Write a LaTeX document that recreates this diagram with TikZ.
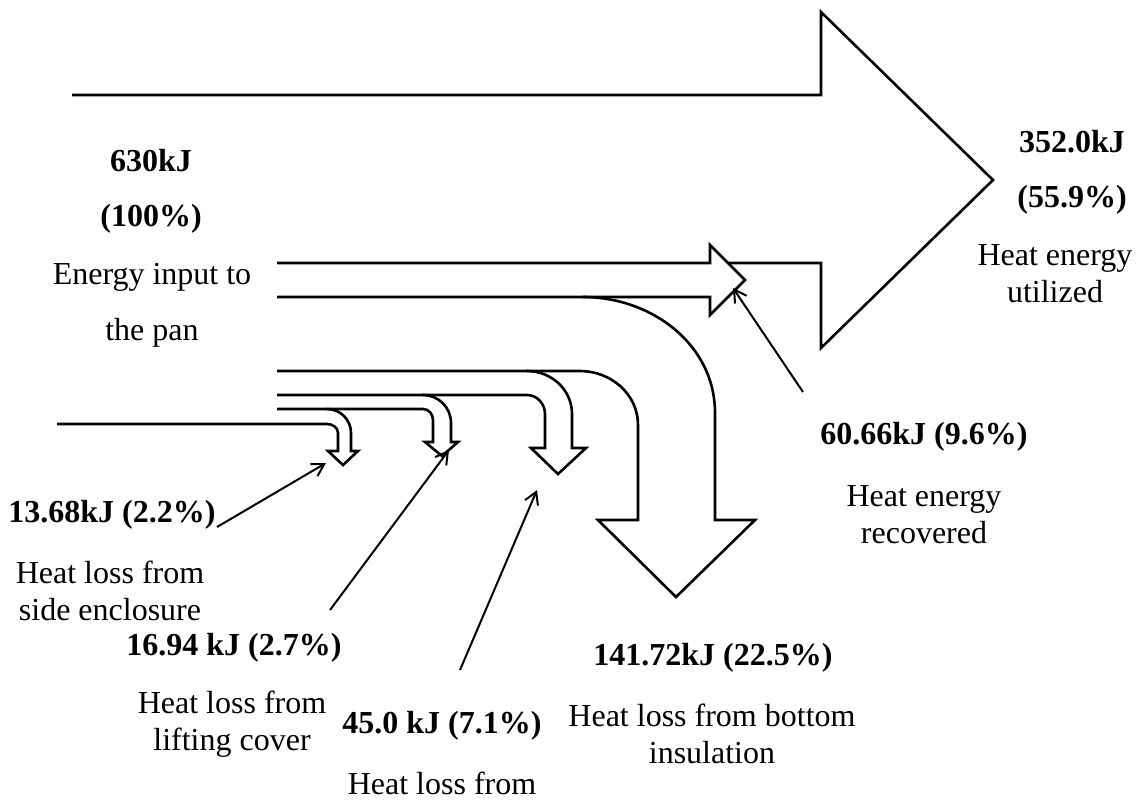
\documentclass[tikz,border=0pt]{standalone}
\usepackage{fontspec}
\setmainfont{Liberation Serif}
\usetikzlibrary{arrows.meta}

\begin{document}
\begin{tikzpicture}[x=0.5pt,y=0.5pt,
        flow/.style={draw=black,line width=1.3pt,line join=miter},
        pointer/.style={line width=1pt,-{Straight Barb[length=6pt,width=7pt]}},
        val/.style={font=\fontsize{16}{19}\selectfont\bfseries},
        txt/.style={font=\fontsize{16}{18.5}\selectfont,align=center}]
        \useasboundingbox (0,0) rectangle (1136,-799);

        % main flow and the recovered part
        \draw[flow] (72,-95) -- (821,-95) -- (821,-12) -- (993,-180) -- (821,-348) -- (821,-263) -- (728,-263);
        \draw[flow] (277,-263) -- (710,-263) -- (710,-245) -- (745,-280) -- (710,-315) -- (710,-297) -- (277,-297);

        % losses
        \draw[flow] (583,-297) to[out=0,in=90] (715,-413) -- (715,-520) -- (755,-520) -- (676,-597) -- (598,-520) -- (638,-520) -- (638,-425) to[out=90,in=0] (580,-371) -- (277,-371);
        \draw[flow] (527,-371) to[out=0,in=90] (572,-414) -- (572,-448) -- (586,-448) -- (558,-474) -- (531,-448) -- (545,-448) -- (545,-414) to[out=90,in=0] (527,-395) -- (423,-395);
        \draw[flow] (277,-395) -- (423,-395) to[out=0,in=90] (451,-423) -- (451,-442) -- (458,-442) -- (442,-456) -- (425,-442) -- (433,-442) -- (433,-420) to[out=90,in=0] (423,-409) -- (277,-409);
        \draw[flow] (327,-409) to[out=0,in=90] (351,-433) -- (351,-451) -- (358,-451) -- (343,-465) -- (328,-451) -- (338,-451) -- (338,-433) to[out=90,in=0] (327,-424) -- (57,-424);

        % labels
        \node[val] (inval) at (151,-161) {630kJ};
        \node[val] (inpct) at (151,-219) {(100\%)};
        \node[txt,font=\fontsize{16}{28}\selectfont] (intxt) at (152,-305) {Energy input to\\the pan};
        \node[val] (useval) at (1072,-142) {352.0kJ};
        \node[val] (usepct) at (1072,-200) {(55.9\%)};
        \node[txt] (usetxt) at (1055,-274) {Heat energy\\utilized};
        \node[val] (recval) at (924,-437) {60.66kJ (9.6\%)};
        \node[txt] (rectxt) at (924,-515) {Heat energy\\recovered};
        \node[val] (sideval) at (112,-515) {13.68kJ (2.2\%)};
        \node[txt] (sidetxt) at (110,-591) {Heat loss from\\side enclosure};
        \node[val] (liftval) at (234,-648) {16.94 kJ (2.7\%)};
        \node[txt] (lifttxt) at (232,-724) {Heat loss from\\lifting cover};
        \node[val] (panval) at (442,-726) {45.0 kJ (7.1\%)};
        \node[txt] (pantxt) at (442,-783) {Heat loss from};
        \node[val] (botval) at (713,-658) {141.72kJ (22.5\%)};
        \node[txt] (bottxt) at (712,-734) {Heat loss from bottom\\insulation};

        % pointers
        \coordinate (recs) at (803,-392); \coordinate (rece) at (733,-288);
        \coordinate (sides) at (217,-527); \coordinate (sidee) at (326,-463);
        \coordinate (lifts) at (330,-610); \coordinate (lifte) at (449,-450);
        \coordinate (pans) at (460,-670); \coordinate (pane) at (537,-490);
        \draw[pointer] (recs) -- (rece);
        \draw[pointer] (sides) -- (sidee);
        \draw[pointer] (lifts) -- (lifte);
        \draw[pointer] (pans) -- (pane);
    \end{tikzpicture}
\end{document}
